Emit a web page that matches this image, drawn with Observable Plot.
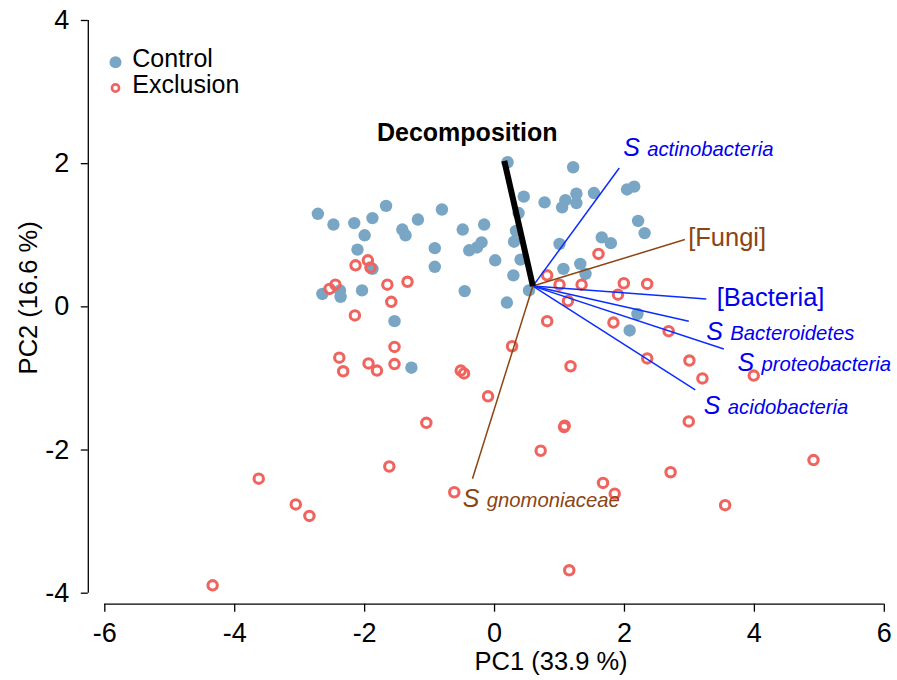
<!DOCTYPE html>
<html><head><meta charset="utf-8">
<script src="https://cdn.jsdelivr.net/npm/d3@7"></script>
<script src="https://cdn.jsdelivr.net/npm/@observablehq/plot@0.6"></script>
<style>
html,body{margin:0;padding:0;background:#fff;}
</style>
</head><body><div id="chart"></div>
<script>
// PCA scores, Control group
const controlPC1 = [-2.72,-2.48,-2.16,-1.88,-1.67,-2.00,-1.42,-1.37,-1.18,-0.81,-2.11,-0.92,-0.92,-0.49,-0.16,-0.39,-0.27,-0.20,0.01,0.20,0.45,0.37,0.33,0.30,0.40,0.29,0.53,0.19,-2.65,-2.38,-2.37,-2.04,-1.54,-0.46,-1.88,1.21,0.77,1.09,1.04,1.26,1.26,1.53,1.00,1.06,1.32,1.40,1.65,1.79,2.04,2.15,2.21,2.31,2.20,2.08,-1.28];
const controlPC2 = [1.30,1.15,1.17,1.24,1.41,1.00,1.08,1.00,1.22,1.36,0.80,0.82,0.56,1.08,1.15,0.79,0.83,0.90,0.65,2.02,1.54,1.31,1.06,0.91,0.66,0.44,0.23,0.06,0.18,0.23,0.14,0.23,-0.20,0.22,0.53,1.95,1.46,1.49,1.39,1.58,1.45,1.59,0.88,0.53,0.60,0.46,0.97,0.89,1.64,1.68,1.20,1.03,-0.10,-0.33,-0.85];
// PCA scores, Exclusion group
const exclusionPC1 = [-2.14,-1.95,-1.91,-2.54,-2.45,-1.65,-1.34,-1.59,-2.15,0.81,1.00,1.34,1.13,0.81,1.60,1.99,2.35,1.90,1.83,2.68,0.27,1.17,2.35,3.00,3.20,3.99,2.99,1.08,1.07,0.71,4.91,2.71,1.67,1.85,3.55,-1.54,-2.39,-2.33,-1.94,-1.81,-1.54,-0.52,-0.47,-0.10,-1.05,-1.62,-0.62,-3.06,-2.85,-3.63,-4.34,1.15];
const exclusionPC2 = [0.58,0.65,0.55,0.25,0.31,0.31,0.35,0.07,-0.12,0.44,0.31,0.31,0.08,-0.20,0.74,0.33,0.32,0.17,-0.22,-0.34,-0.55,-0.83,-0.72,-0.75,-1.00,-0.96,-1.60,-1.66,-1.68,-2.01,-2.14,-2.31,-2.46,-2.61,-2.77,-0.56,-0.71,-0.90,-0.79,-0.89,-0.80,-0.89,-0.93,-1.25,-1.62,-2.23,-2.59,-2.76,-2.92,-2.40,-3.89,-3.68];

// Biplot vectors
const vectorOrigin = [0.59, 0.29];
const vectorNames = ["actinobacteria","Fungi","Bacteria","Bacteroidetes","proteobacteria","acidobacteria","gnomoniaceae"];
const vectorKind  = ["S","bracket","bracket","S","S","S","S"];
const vectorGroup = ["bacteria","fungi","bacteria","bacteria","bacteria","bacteria","fungi"];
const vectorPC1 = [1.92, 2.93, 3.26, 2.99, 3.53, 3.09, -0.34];
const vectorPC2 = [1.94, 0.94, 0.11, -0.20, -0.59, -1.16, -2.40];
const labelPC1  = [1.98, 2.98, 3.42, 3.26, 3.74, 3.22, -0.49];
const labelPC2  = [2.11, 0.96, 0.12, -0.47, -0.89, -1.49, -2.80];

// Response vector
const responseName = "Decomposition";
const responsePC1 = 0.15, responsePC2 = 2.04;
const responseLabelPC1 = -0.42, responseLabelPC2 = 2.43;

const xTicks = [-6,-4,-2,0,2,4,6];
const yTicks = [-4,-2,0,2,4];
const xLabel = "PC1 (33.9 %)";
const yLabel = "PC2 (16.6 %)";
const legendLabels = ["Control","Exclusion"];

const control = controlPC1.map((x,i)=>({x, y: controlPC2[i]}));
const exclusion = exclusionPC1.map((x,i)=>({x, y: exclusionPC2[i]}));
const vectors = vectorNames.map((name,i)=>({name, kind: vectorKind[i], group: vectorGroup[i],
  x: vectorPC1[i], y: vectorPC2[i], lx: labelPC1[i], ly: labelPC2[i]}));

const BLUE_PT = "#79a6c4", RED_PT = "#f0645f", LINE_BLUE = "#0a2dff", TEXT_BLUE = "#0000f0", BROWN = "#8b4513";
const colorOf = d => d.group === "fungi" ? BROWN : LINE_BLUE;
const textColorOf = d => d.group === "fungi" ? BROWN : TEXT_BLUE;
const AXOFF_X = 11, AXOFF_Y = -16.5;

const chart = Plot.plot({
  width: 897, height: 680,
  marginLeft: 104.3, marginRight: 13.2, marginTop: 20, marginBottom: 87.3,
  x: {domain: [xTicks[0], xTicks[xTicks.length-1]]},
  y: {domain: [yTicks[0], yTicks[yTicks.length-1]]},
  style: {fontFamily: "'Liberation Sans', Arial, Helvetica, sans-serif", fontSize: "26px", color: "#000", background: "#fff"},
  marks: [
    // axes, R style (detached)
    Plot.ruleY([yTicks[0]], {x1: xTicks[0], x2: xTicks[xTicks.length-1], dy: AXOFF_X, stroke: "#000", strokeWidth: 1.3}),
    Plot.axisX(xTicks, {anchor: "bottom", tickSize: 8, tickPadding: 11, dy: AXOFF_X, tickFormat: d => String(d), fontSize: 27, label: null, stroke: "#000", strokeWidth: 1.3, fill: "#000"}),
    Plot.ruleX([xTicks[0]], {y1: yTicks[0], y2: yTicks[yTicks.length-1], dx: AXOFF_Y, stroke: "#000", strokeWidth: 1.3}),
    Plot.axisY(yTicks, {anchor: "left", tickSize: 7, tickPadding: 12, dx: AXOFF_Y, tickFormat: d => String(d), fontSize: 27, label: null, stroke: "#000", strokeWidth: 1.3, fill: "#000"}),
    Plot.text([xLabel], {frameAnchor: "bottom", text: d => d, dx: 56.5, dy: 77, lineAnchor: "bottom", fontSize: 25.5, fill: "#000"}),
    Plot.text([yLabel], {frameAnchor: "left", text: d => d, dx: -75.5, dy: -9, rotate: -90, lineAnchor: "middle", textAnchor: "middle", fontSize: 25.5, fill: "#000"}),
    // points
    Plot.dot(control, {x: "x", y: "y", r: 6.2, fill: BLUE_PT, stroke: "none"}),
    Plot.dot(exclusion, {x: "x", y: "y", r: 4.7, fill: "none", stroke: RED_PT, strokeWidth: 3.1}),
    // vectors
    Plot.link(vectors, {x1: () => vectorOrigin[0], y1: () => vectorOrigin[1], x2: "x", y2: "y", stroke: colorOf, strokeWidth: 1.5}),
    Plot.link([responseName], {x1: () => vectorOrigin[0], y1: () => vectorOrigin[1], x2: () => responsePC1, y2: () => responsePC2, stroke: "#000", strokeWidth: 6}),
    // vector labels
    Plot.text(vectors.filter(d => d.kind === "S"), {x: "lx", y: "ly", text: () => "S", fontStyle: "italic", fontSize: 25, textAnchor: "start", lineAnchor: "bottom", fill: textColorOf}),
    Plot.text(vectors.filter(d => d.kind === "S"), {x: "lx", y: "ly", text: "name", dx: 24, fontStyle: "italic", fontSize: 20.3, textAnchor: "start", lineAnchor: "bottom", fill: textColorOf}),
    Plot.text(vectors.filter(d => d.kind === "bracket"), {x: "lx", y: "ly", text: d => `[${d.name}]`, fontSize: 25.5, textAnchor: "start", lineAnchor: "middle", fill: textColorOf}),
    Plot.text([responseName], {x: () => responseLabelPC1, y: () => responseLabelPC2, text: d => d, fontWeight: "bold", fontSize: 25, textAnchor: "middle", lineAnchor: "middle", fill: "#000"}),
    // legend
    Plot.dot([legendLabels[0]], {frameAnchor: "top-left", dx: 10.7, dy: 41.7, r: 6, fill: BLUE_PT, stroke: "none"}),
    Plot.dot([legendLabels[1]], {frameAnchor: "top-left", dx: 10.7, dy: 67.5, r: 3.6, fill: "none", stroke: RED_PT, strokeWidth: 2.6}),
    Plot.text([legendLabels[0]], {frameAnchor: "top-left", text: d => d, dx: 27.5, dy: 46.7, lineAnchor: "bottom", textAnchor: "start", fontSize: 25, fill: "#000"}),
    Plot.text([legendLabels[1]], {frameAnchor: "top-left", text: d => d, dx: 27.5, dy: 72.3, lineAnchor: "bottom", textAnchor: "start", fontSize: 25, fill: "#000"})
  ]
});
document.getElementById("chart").appendChild(chart);
</script>
</body></html>
